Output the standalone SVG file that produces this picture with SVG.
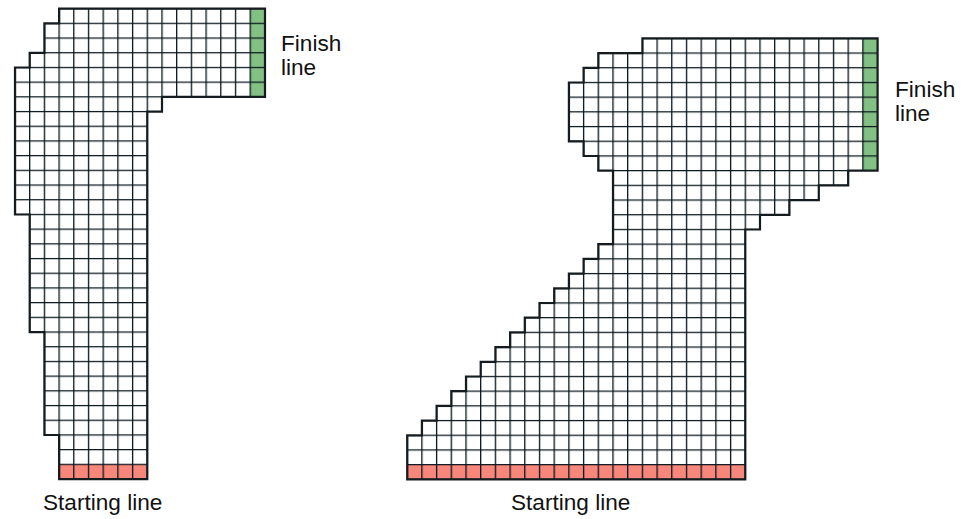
<svg xmlns="http://www.w3.org/2000/svg" width="970" height="519" viewBox="0 0 970 519">
  <style>
    .bg { fill: #ffffff; }
    .grid { stroke: #06141a; stroke-width: 1.3; fill: none; }
    .outline { fill: none; stroke: #141c20; stroke-width: 2.2; stroke-linejoin: miter; }
    .finish { fill: #83c083; }
    .start { fill: #f6877a; }
    .label { font-family: "Liberation Sans", Arial, sans-serif; font-size: 22.6px; fill: #111111; }
  </style>
  <defs>
    <pattern id="gridL" patternUnits="userSpaceOnUse" x="14.35" y="8.05" width="14.7" height="14.7">
      <path class="grid" d="M0 0.65H14.7M0.65 0V14.7"/>
    </pattern>
    <pattern id="gridR" patternUnits="userSpaceOnUse" x="406.55" y="37.75" width="14.7" height="14.7">
      <path class="grid" d="M0 0.65H14.7M0.65 0V14.7"/>
    </pattern>
  </defs>
  <rect width="970" height="519" fill="#ffffff"/>

  <g id="track-left">
    <path class="bg" d="M59.1,8.7 H265 V96.9 H162 V111.6 H147.3 V479.1 H59.1 V435 H44.4 V332.1 H29.7 V214.5 H15 V67.5 H29.7 V52.8 H44.4 V23.4 H59.1 Z"/>
    <rect class="finish" x="250.2" y="8.7" width="14.8" height="88.2"/>
    <rect class="start" x="59.1" y="464.4" width="88.2" height="14.7"/>
    <path fill="url(#gridL)" d="M59.1,8.7 H265 V96.9 H162 V111.6 H147.3 V479.1 H59.1 V435 H44.4 V332.1 H29.7 V214.5 H15 V67.5 H29.7 V52.8 H44.4 V23.4 H59.1 Z"/>
    <path class="outline" d="M59.1,8.7 H265 V96.9 H162 V111.6 H147.3 V479.1 H59.1 V435 H44.4 V332.1 H29.7 V214.5 H15 V67.5 H29.7 V52.8 H44.4 V23.4 H59.1 Z"/>
  </g>

  <g id="track-right">
    <path class="bg" d="M642.4,38.4 H877.6 V170.7 H848.2 V185.4 H818.8 V200.1 H789.4 V214.8 H760 V229.5 H745.3 V479.4 H407.2 V435.3 H421.9 V420.6 H436.6 V405.9 H451.3 V391.2 H466 V376.5 H480.7 V361.8 H495.4 V347.1 H510.1 V332.4 H524.8 V317.7 H539.5 V303 H554.2 V288.3 H568.9 V273.6 H583.6 V258.9 H598.3 V244.2 H613 V170.7 H598.3 V156 H583.6 V141.3 H568.9 V82.5 H583.6 V67.8 H598.3 V53.1 H642.4 Z"/>
    <rect class="finish" x="862.9" y="38.4" width="14.7" height="132.3"/>
    <rect class="start" x="407.2" y="464.7" width="338.1" height="14.7"/>
    <path fill="url(#gridR)" d="M642.4,38.4 H877.6 V170.7 H848.2 V185.4 H818.8 V200.1 H789.4 V214.8 H760 V229.5 H745.3 V479.4 H407.2 V435.3 H421.9 V420.6 H436.6 V405.9 H451.3 V391.2 H466 V376.5 H480.7 V361.8 H495.4 V347.1 H510.1 V332.4 H524.8 V317.7 H539.5 V303 H554.2 V288.3 H568.9 V273.6 H583.6 V258.9 H598.3 V244.2 H613 V170.7 H598.3 V156 H583.6 V141.3 H568.9 V82.5 H583.6 V67.8 H598.3 V53.1 H642.4 Z"/>
    <path class="outline" d="M642.4,38.4 H877.6 V170.7 H848.2 V185.4 H818.8 V200.1 H789.4 V214.8 H760 V229.5 H745.3 V479.4 H407.2 V435.3 H421.9 V420.6 H436.6 V405.9 H451.3 V391.2 H466 V376.5 H480.7 V361.8 H495.4 V347.1 H510.1 V332.4 H524.8 V317.7 H539.5 V303 H554.2 V288.3 H568.9 V273.6 H583.6 V258.9 H598.3 V244.2 H613 V170.7 H598.3 V156 H583.6 V141.3 H568.9 V82.5 H583.6 V67.8 H598.3 V53.1 H642.4 Z"/>
  </g>

  <g id="labels">
    <text class="label" x="281" y="51">Finish</text>
    <text class="label" x="281" y="74.5">line</text>
    <text class="label" x="895" y="97">Finish</text>
    <text class="label" x="895" y="121">line</text>
    <text class="label" x="43" y="510">Starting line</text>
    <text class="label" x="511" y="510">Starting line</text>
  </g>
</svg>
